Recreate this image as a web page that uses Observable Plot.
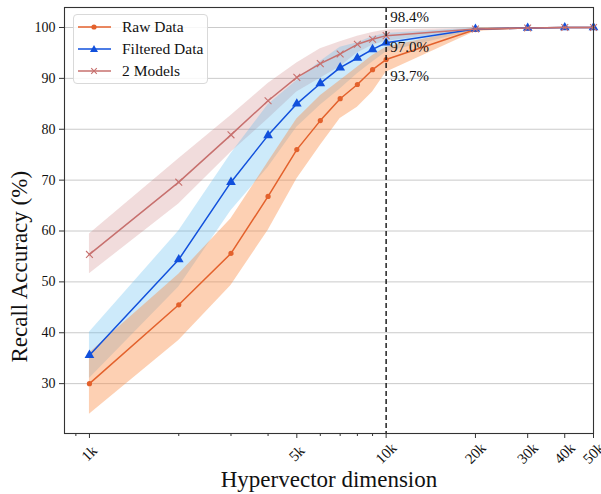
<!DOCTYPE html>
<html>
<head>
<meta charset="utf-8">
<script src="https://cdn.jsdelivr.net/npm/d3@7"></script>
<script src="https://cdn.jsdelivr.net/npm/@observablehq/plot@0.6"></script>
<style>
  body { margin: 0; background: white; }
  #wrap { position: relative; width: 601px; height: 494px; font-family: "Liberation Serif", serif; overflow: hidden; }
  #legend { position: absolute; left: 73px; top: 14px; width: 135px; height: 70px; border: 1px solid #d9d9d9; border-radius: 4px; background: rgba(255,255,255,0.85); box-sizing: border-box; }
  .item { position: absolute; left: 4px; height: 20px; display: flex; align-items: center; font-size: 15.5px; color: #111; font-family: "Liberation Serif", serif; }
  .item svg { margin-right: 11px; }
</style>
</head>
<body>
<div id="wrap"><div id="chart"></div><div id="legend"></div></div>
<script>
const dims = [1000, 2000, 3000, 4000, 5000, 6000, 7000, 8000, 9000, 10000, 20000, 30000, 40000, 50000];

const rawMean = [30.0, 45.5, 55.6, 66.8, 76.0, 81.7, 86.0, 88.8, 91.7, 93.7, 99.6, 99.9, 100.0, 100.0];
const rawLo   = [24.0, 38.5, 49.3, 60.1, 70.2, 76.8, 82.1, 84.3, 87.3, 91.2, 99.2, 99.8, 99.9, 99.9];
const rawHi   = [36.0, 51.5, 62.4, 73.5, 82.0, 86.6, 89.6, 92.2, 94.5, 96.1, 99.9, 100.0, 100.0, 100.0];

const filtMean = [35.6, 54.4, 69.6, 78.8, 85.0, 89.0, 92.1, 94.0, 95.7, 97.0, 99.7, 99.9, 100.0, 100.0];
const filtLo   = [31.0, 49.0, 64.0, 72.5, 80.4, 84.7, 87.9, 90.9, 93.2, 95.2, 99.4, 99.8, 99.9, 99.9];
const filtHi   = [40.1, 60.0, 75.2, 84.8, 89.6, 93.3, 96.1, 97.0, 98.2, 98.8, 99.9, 100.0, 100.0, 100.0];

const twoMean = [55.4, 69.6, 78.9, 85.6, 90.2, 92.9, 94.8, 96.7, 97.7, 98.4, 99.7, 99.9, 100.0, 100.0];
const twoLo   = [51.6, 65.3, 75.5, 82.0, 87.3, 90.0, 92.3, 95.0, 96.5, 97.3, 99.5, 99.9, 99.9, 99.9];
const twoHi   = [59.4, 74.2, 82.7, 89.0, 93.0, 95.8, 97.2, 98.3, 99.0, 99.5, 99.9, 100.0, 100.0, 100.0];

const seriesNames = ["Raw Data", "Filtered Data", "2 Models"];
const xTickValues = [1000, 5000, 10000, 20000, 30000, 40000, 50000];
const xTickLabels = ["1k", "5k", "10k", "20k", "30k", "40k", "50k"];
const xMinorTicks = [900, 2000, 3000, 4000, 6000, 7000, 8000, 9000];
const yTickValues = [30, 40, 50, 60, 70, 80, 90, 100];
const markerDim = 10000;
const annotText = ["98.4%", "97.0%", "93.7%"];
const annotY = [102.0, 96.1, 90.35];

const colors = {
  raw: "#e3612c", rawBand: "#f98a40",
  filt: "#1150dc", filtBand: "#5bb8ee",
  two: "#c7706e", twoBand: "#c06060"
};

const rows = (mean, lo, hi) => dims.map((d, i) => ({x: d, y: mean[i], lo: lo[i], hi: hi[i]}));
const raw = rows(rawMean, rawLo, rawHi);
const filt = rows(filtMean, filtLo, filtHi);
const two = rows(twoMean, twoLo, twoHi);
const annots = annotText.map((t, i) => ({t, y: annotY[i]}));
const xTicks = xTickValues.map((v, i) => ({v, label: xTickLabels[i]}));

const chart = Plot.plot({
  width: 601,
  height: 494,
  marginLeft: 64,
  marginRight: 8,
  marginTop: 7,
  marginBottom: 61,
  style: {fontFamily: "'Liberation Serif', serif", fontSize: "14px", background: "white", color: "#111"},
  x: {type: "log", domain: [824, 50000]},
  y: {domain: [20.2, 103.93]},
  marks: [
    Plot.gridY(yTickValues, {stroke: "#b8b8b8", strokeOpacity: 0.75, strokeWidth: 1}),
    Plot.areaY(two, {x: "x", y1: "lo", y2: "hi", fill: colors.twoBand, fillOpacity: 0.22}),
    Plot.areaY(filt, {x: "x", y1: "lo", y2: "hi", fill: colors.filtBand, fillOpacity: 0.3}),
    Plot.areaY(raw, {x: "x", y1: "lo", y2: "hi", fill: colors.rawBand, fillOpacity: 0.4}),
    Plot.line(raw, {x: "x", y: "y", stroke: colors.raw, strokeWidth: 1.5}),
    Plot.dot(raw, {x: "x", y: "y", r: 2.6, fill: colors.raw, stroke: null}),
    Plot.line(filt, {x: "x", y: "y", stroke: colors.filt, strokeWidth: 1.5}),
    Plot.dot(filt, {x: "x", y: "y", r: 3.6, symbol: "triangle", fill: colors.filt, stroke: null}),
    Plot.line(two, {x: "x", y: "y", stroke: colors.two, strokeWidth: 1.5}),
    Plot.dot(two, {x: "x", y: "y", r: 3.2, symbol: "times", stroke: colors.two, strokeWidth: 1.1}),
    Plot.ruleX([markerDim], {stroke: "#111", strokeWidth: 1.4, strokeDasharray: "5,3"}),
    Plot.text(annots, {x: () => markerDim, y: "y", text: "t", textAnchor: "start", dx: 4, fontSize: 15, fill: "#111", lineAnchor: "middle"}),
    Plot.frame({stroke: "#333", strokeWidth: 1.1}),
    Plot.axisY({ticks: yTickValues, tickSize: 5, tickPadding: 4, fontSize: 14, label: null, stroke: "#333"}),
    Plot.axisX({ticks: xTickValues, tickFormat: () => "", tickSize: 5, label: null, stroke: "#333"}),
    Plot.axisX({ticks: xMinorTicks, tickFormat: () => "", tickSize: 3, label: null, stroke: "#333"}),
    Plot.text(xTicks, {x: "v", text: "label", frameAnchor: "bottom", dy: 20, rotate: -45, textAnchor: "middle", lineAnchor: "middle", fontSize: 15, fill: "#111"}),
    Plot.text(["Hypervector dimension"], {frameAnchor: "bottom", dy: 46, fontSize: 23, fill: "#111", lineAnchor: "middle"}),
    Plot.text(["Recall Accuracy (%)"], {frameAnchor: "left", dx: -45, dy: 142, rotate: -90, textAnchor: "start", fontSize: 23, fill: "#111", lineAnchor: "middle"})
  ]
});
document.getElementById("chart").appendChild(chart);

// Legend
const legend = document.getElementById("legend");
const legendItems = [
  {name: seriesNames[0], color: colors.raw, sym: "circle"},
  {name: seriesNames[1], color: colors.filt, sym: "triangle"},
  {name: seriesNames[2], color: colors.two, sym: "times"}
];
legendItems.forEach((it, i) => {
  const div = document.createElement("div");
  div.className = "item";
  div.style.top = (1.5 + i * 22.3) + "px";
  let marker = "";
  if (it.sym === "circle") marker = `<circle cx="16" cy="10" r="2.6" fill="${it.color}"/>`;
  else if (it.sym === "triangle") marker = `<path d="M16,6 L20,13 L12,13 Z" fill="${it.color}"/>`;
  else marker = `<path d="M13.2,7.2 L18.8,12.8 M18.8,7.2 L13.2,12.8" stroke="${it.color}" stroke-width="1.1"/>`;
  div.innerHTML = `<svg width="33" height="20"><line x1="0" y1="10" x2="33" y2="10" stroke="${it.color}" stroke-width="1.5"/>${marker}</svg><span>${it.name}</span>`;
  legend.appendChild(div);
});
</script>
</body>
</html>
